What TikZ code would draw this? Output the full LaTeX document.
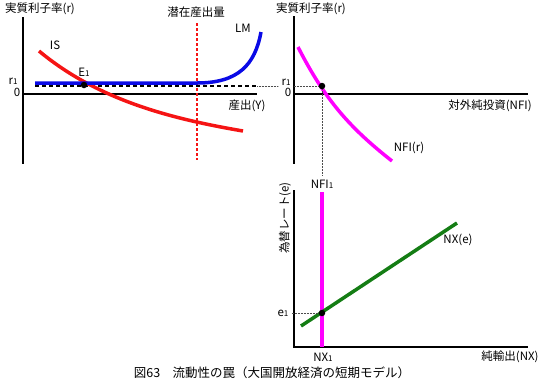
\documentclass[tikz,border=0pt]{standalone}
\usepackage{fontspec}
\setmainfont{Noto Sans CJK JP}
\newcommand{\idx}[1]{{\fontsize{8}{9}\selectfont #1}}
\definecolor{isred}{RGB}{245,20,20}
\definecolor{lmblue}{RGB}{10,10,230}
\definecolor{nfimag}{RGB}{255,0,255}
\definecolor{nxgreen}{RGB}{20,125,20}

\begin{document}
\begin{tikzpicture}[x=1pt,y=-1pt,font=\fontsize{11.5}{13}\selectfont,
		axis/.style={line width=2pt},
		curve/.style={line width=3.5pt},
		dot/.style={circle,fill=black,inner sep=0pt,minimum size=6.5pt},
		guide/.style={densely dotted,line width=0.5pt,black!70}]
		\useasboundingbox (0,0) rectangle (549,389);

		% 左: IS-LM
		\coordinate (Ltop) at (23,17);
		\coordinate (Lbot) at (23,164);
		\coordinate (LO) at (23,94);
		\coordinate (LX) at (257,94);
		\draw[axis] (Ltop) -- (Lbot);
		\draw[axis] (LO) -- (LX);
		\node (Lylab) at (40,9) {実質利子率(r)};
		\node (Lzero) at (17,92) {0};
		\node (Lr) at (13,81) {r\idx{1}};
		\node (Lxlab) at (247,106) {産出(Y)};

		\coordinate (Pleft) at (197,23);
		\coordinate (Pbot) at (197,160);
		\draw[isred, line width=2pt, dash pattern=on 3pt off 2pt] (Pleft) -- (Pbot);
		\node (Plab) at (196,12) {潜在産出量};

		\coordinate (Dstart) at (35,86);
		\coordinate (Dend) at (257,86);
		\draw[line width=1.6pt, dash pattern=on 4pt off 3pt] (Dstart) -- (Dend);

		\coordinate (A) at (39,51);
		\coordinate (B) at (243,131);
		\draw[curve, isred] (A) .. controls (99,101) and (173,119) .. (B);
		\node (ISlab) at (55,45) {IS};

		\coordinate (C) at (35,83);
		\coordinate (D) at (197,83);
		\coordinate (E) at (261,32);
		\draw[curve, lmblue] (C) -- (D) .. controls (238,83) and (255,65) .. (E);
		\node (LMlab) at (243,28) {LM};

		\node[dot] (Eone) at (84,85) {};
		\node (Elab) at (84,72) {E\idx{1}};

		% 右上: NFI
		\coordinate (Rtop) at (294,16);
		\coordinate (Rbot) at (294,164);
		\coordinate (RO) at (294,94);
		\coordinate (RX) at (528,94);
		\draw[axis] (Rtop) -- (Rbot);
		\draw[axis] (RO) -- (RX);
		\node (Rylab) at (311,9) {実質利子率(r)};
		\node (Rzero) at (288,92) {0};
		\node (Rr) at (286,82) {r\idx{1}};
		\node (Rxlab) at (490,106) {対外純投資(NFI)};

		\coordinate (F) at (298,47);
		\coordinate (G) at (392,161);
		\draw[curve, nfimag] (F) .. controls (325,100) and (350,128) .. (G);
		\node (NFIlab) at (409,148) {NFI(r)};
		\node[dot] (Rdot) at (322,86) {};

		\draw[guide] (Dend) -- (Rr.west |- Rdot);
		\draw[guide] (Rr.east |- Rdot) -- (Rdot);

		% 右下: NX
		\coordinate (Btop) at (294,190);
		\coordinate (BO) at (294,347);
		\coordinate (BX) at (528,347);
		\draw[axis] (Btop) -- (BO) -- (BX);
		\node[rotate=90] (Bylab) at (285,218) {為替レート(e)};
		\node (Bxlab) at (510,357) {純輸出(NX)};

		\node (NFIone) at (322,184) {NFI\idx{1}};
		\draw[guide] (Rdot) -- (NFIone.north);
		\coordinate (H) at (322,192);
		\coordinate (I) at (322,347);
		\draw[curve, nfimag] (H) -- (I);
		\node (NXone) at (323,357) {NX\idx{1}};

		\coordinate (J) at (301,326);
		\coordinate (K) at (457,223);
		\draw[curve, nxgreen] (J) -- (K);
		\node (NXlab) at (458,240) {NX(e)};

		\node[dot] (Bdot) at (322,313) {};
		\node (Be) at (283,313) {e\idx{1}};
		\draw[guide] (Be.east) -- (Bdot);

		% 図番号
		\node[font=\fontsize{12.5}{14}\selectfont] (Cap) at (272,373) {図63　流動性の罠（大国開放経済の短期モデル）};
	\end{tikzpicture}
\end{document}
